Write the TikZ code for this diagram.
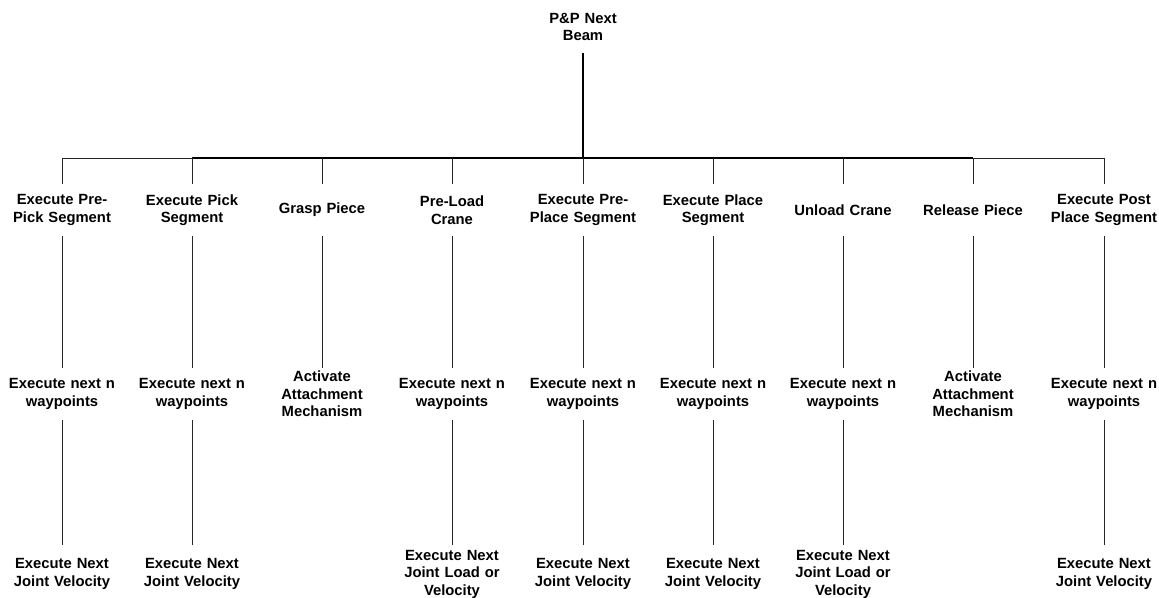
\documentclass[tikz,border=0pt]{standalone}
\usepackage{fontspec}
\setmainfont{Liberation Sans}
\begin{document}
\begin{tikzpicture}[x=1pt,y=-1pt,
  box/.style={font=\bfseries\fontsize{14.8}{17.5}\selectfont, align=center,
    text width=116pt, minimum height=52pt, inner sep=0pt},
  leaf/.style={box, minimum height=58pt},
  conn/.style={line width=1pt, black!85},
  heavy/.style={line width=2pt, black}]
\useasboundingbox (0,0) rectangle (1159,597);
\clip (0,0) rectangle (1159,597);

\node[box] (root) at (583,27) {P\&P Next\\Beam};

% level 1
\node[box] (c1) at (62,210)  {Execute Pre-\\Pick Segment};
\node[box] (c2) at (192,210) {Execute Pick\\Segment};
\node[box] (c3) at (322,210) {Grasp Piece};
\node[box] (c4) at (452,210) {Pre-Load\\Crane};
\node[box] (c5) at (583,210) {Execute Pre-\\Place Segment};
\node[box] (c6) at (713,210) {Execute Place\\Segment};
\node[box] (c7) at (843,210) {Unload Crane};
\node[box] (c8) at (973,210) {Release Piece};
\node[box] (c9) at (1104,210) {Execute Post\\Place Segment};

% level 2
\node[box] (d1) at (62,394)  {Execute next n\\waypoints};
\node[box] (d2) at (192,394) {Execute next n\\waypoints};
\node[box] (d3) at (322,394) {Activate\\Attachment\\Mechanism};
\node[box] (d4) at (452,394) {Execute next n\\waypoints};
\node[box] (d5) at (583,394) {Execute next n\\waypoints};
\node[box] (d6) at (713,394) {Execute next n\\waypoints};
\node[box] (d7) at (843,394) {Execute next n\\waypoints};
\node[box] (d8) at (973,394) {Activate\\Attachment\\Mechanism};
\node[box] (d9) at (1104,394) {Execute next n\\waypoints};

% level 3
\node[leaf] (e1) at (62,574)  {Execute Next\\Joint Velocity};
\node[leaf] (e2) at (192,574) {Execute Next\\Joint Velocity};
\node[leaf] (e4) at (452,574) {Execute Next\\Joint Load or\\Velocity};
\node[leaf] (e5) at (583,574) {Execute Next\\Joint Velocity};
\node[leaf] (e6) at (713,574) {Execute Next\\Joint Velocity};
\node[leaf] (e7) at (843,574) {Execute Next\\Joint Load or\\Velocity};
\node[leaf] (e9) at (1104,574) {Execute Next\\Joint Velocity};

% bus
\coordinate (bus) at (583,158);
\draw[heavy] (root.south) -- (bus);
\draw[heavy] (c2.north |- bus) -- (c8.north |- bus);
\draw[conn] (c1.north |- bus) -- (c2.north |- bus);
\draw[conn] (c8.north |- bus) -- (c9.north |- bus);
\foreach \i in {1,...,9} {
  \draw[conn] (c\i.north |- bus) -- (c\i.north);
  \draw[conn] (c\i.south) -- (d\i.north);
}
\foreach \i in {1,2,4,5,6,7,9} {
  \draw[conn] (d\i.south) -- (e\i.north);
}
\end{tikzpicture}
\end{document}
